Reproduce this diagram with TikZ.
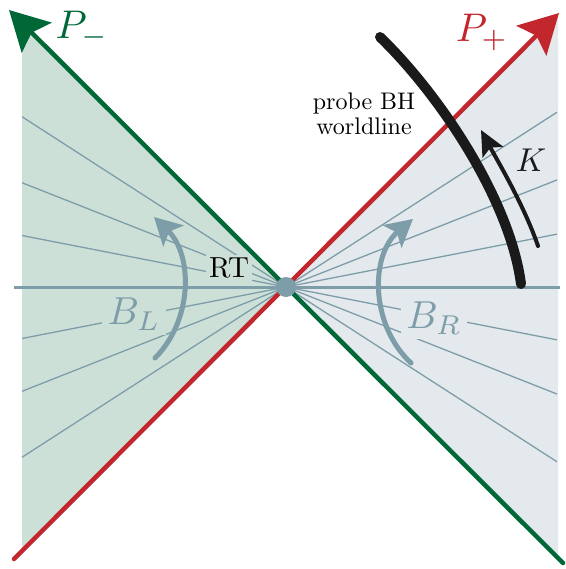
\documentclass[tikz,border=0pt]{standalone}
\usetikzlibrary{arrows.meta}
\definecolor{pgreen}{RGB}{0,104,55}
\definecolor{pred}{RGB}{193,39,45}
\definecolor{lfill}{RGB}{205,224,216}
\definecolor{rfill}{RGB}{227,233,236}
\definecolor{gblue}{RGB}{125,157,168}
\definecolor{bhblack}{RGB}{26,26,26}
\begin{document}
\begin{tikzpicture}[x=1pt,y=-1pt,
  ray/.style={draw=gblue, line width=1.3pt},
  axis/.style={draw=gblue, line width=3pt},
  pline/.style={line width=4.5pt, line cap=round, draw=#1, color=#1,
     -{Stealth[length=39pt,width=42pt,inset=7pt]}},
  barrow/.style={draw=gblue, color=gblue, line width=5pt, line cap=round,
     -{Stealth[length=27pt,width=29pt,inset=6pt]}},
  karrow/.style={draw=bhblack, color=bhblack, line width=4pt, line cap=round,
     -{Stealth[length=25pt,width=23pt,inset=5pt]}},
  bh/.style={draw=bhblack, line width=10pt, line cap=round},
  dot/.style={circle, fill=gblue, minimum size=20pt, inner sep=0pt},
  biglab/.style={scale=4},
  blab/.style={text=gblue, scale=3.9, inner sep=1.3pt},
]
\useasboundingbox (0,0) rectangle (565,569);
\coordinate (O) at (286,287);
% wedges
\fill[lfill] (22,22) -- (O) -- (22,552) -- cycle;
\fill[rfill] (558,16) -- (O) -- (558,558) -- cycle;
% rays
\foreach \s [count=\i] in {0.645,0.395,0.195,-0.195,-0.395,-0.645} {
  \coordinate (L\i) at (22, {287-264*\s});
  \coordinate (R\i) at (557, {287-271*\s});
  \draw[ray] (O) -- (L\i);
  \draw[ray] (O) -- (R\i);
}
% horizontal slice
\coordinate (hL) at (14,287);
\coordinate (hR) at (560,287);
\draw[axis] (hL) -- (hR);
% labels with background
\node[scale=2.9, fill=lfill, inner sep=1pt] (RT) at (229,268) {RT};
\node[blab, fill=lfill] (BL) at (134,314) {$B_L$};
\node[blab, fill=rfill] (BR) at (434,318) {$B_R$};
% boost arrows
\coordinate (bl0) at (155,358);
\coordinate (bl1) at (154,217);
\draw[barrow] (bl0) .. controls (193,320) and (193,255) .. (bl1);
\coordinate (br0) at (411,363);
\coordinate (br1) at (413,219);
\draw[barrow] (br0) .. controls (370,325) and (370,255) .. (br1);
% null lines
\coordinate (gS) at (563,563);
\coordinate (gT) at (9,10);
\draw[pline=pgreen] (gS) -- (gT);
\coordinate (rS) at (14,559);
\coordinate (rT) at (559,13);
\draw[pline=pred] (rS) -- (rT);
% bifurcation point
\node[dot] (C) at (O) {};
% probe worldline
\coordinate (w0) at (380,37);
\coordinate (w1) at (521,284);
\draw[bh] (w0) .. controls (440,95) and (510,200) .. (w1);
% K arrow
\coordinate (k0) at (538,246);
\coordinate (k1) at (481,130);
\draw[karrow] (k0) .. controls (524,205) and (497,160) .. (k1);
% text labels
\node[biglab, text=pgreen] (Pm) at (82,30) {$P_-$};
\node[biglab, text=pred] (Pp) at (482,33) {$P_+$};
\node[scale=3.3, text=bhblack] (K) at (531,160) {$K$};
\node[scale=2.4, align=center, font={\fontsize{10}{10.6}\selectfont}] (probe) at (364,114) {probe BH\\worldline};
\end{tikzpicture}
\end{document}
